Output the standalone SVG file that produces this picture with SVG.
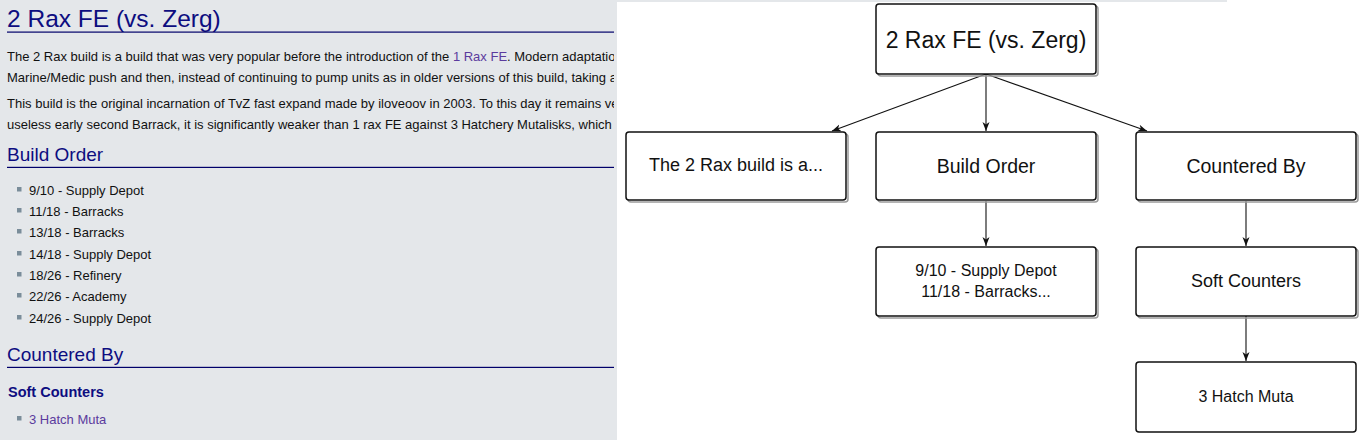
<svg xmlns="http://www.w3.org/2000/svg" width="1369" height="440" viewBox="0 0 1369 440">
<style>
.pt{font-family:"Liberation Sans",Arial,sans-serif;font-size:13px;fill:#111}
.li{font-family:"Liberation Sans",Arial,sans-serif;font-size:13px;fill:#111}
.lnk{fill:#5b3b9e}
.hd{font-family:"Liberation Sans",Arial,sans-serif;fill:#0d0d80}
.box{fill:#fff;stroke:#111;stroke-width:1.5}
.sh{fill:none;stroke:#9a9a9a;stroke-width:1.5}
.nt{font-family:"Liberation Sans",Arial,sans-serif;fill:#111;text-anchor:middle}
.con{fill:none;stroke:#111;stroke-width:1.1}
.bul{fill:#7a8d9a}
</style>
<defs>
<marker id="ah" markerWidth="10" markerHeight="8" refX="9" refY="4" orient="auto" markerUnits="userSpaceOnUse">
<path d="M0,0.5 L9,4 L0,7.5 L2.5,4 z" fill="#111"/>
</marker>
<clipPath id="pc"><rect x="0" y="0" width="614" height="440"/></clipPath>
</defs>
<rect x="0" y="0" width="1369" height="440" fill="#fff"/>
<g id="page">
<rect x="0" y="0" width="617" height="440" fill="#e4e7ea"/>
<rect x="617" y="0" width="610" height="2" fill="#e4e7ea"/>
<g clip-path="url(#pc)">
<text class="hd" x="7" y="27" font-size="24.5">2 Rax FE (vs. Zerg)</text>
<rect x="7" y="31.5" width="607" height="1.2" fill="#00006a"/>
<text class="pt" x="7" y="61">The 2 Rax build is a build that was very popular before the introduction of the <tspan class="lnk">1 Rax FE</tspan>. Modern adaptations of this build</text>
<text class="pt" x="7" y="82">Marine/Medic push and then, instead of continuing to pump units as in older versions of this build, taking an</text>
<text class="pt" x="7" y="108">This build is the original incarnation of TvZ fast expand made by iloveoov in 2003. To this day it remains very</text>
<text class="pt" x="7" y="129">useless early second Barrack, it is significantly weaker than 1 rax FE against 3 Hatchery Mutalisks, which</text>
</g>
<text class="hd" x="7" y="161" font-size="19">Build Order</text>
<rect x="7" y="166.8" width="607" height="1.2" fill="#00006a"/>
<rect class="bul" x="17" y="187" width="4.5" height="4.5"/>
<text class="li" x="29" y="195">9/10 - Supply Depot</text>
<rect class="bul" x="17" y="208" width="4.5" height="4.5"/>
<text class="li" x="29" y="216">11/18 - Barracks</text>
<rect class="bul" x="17" y="229" width="4.5" height="4.5"/>
<text class="li" x="29" y="237">13/18 - Barracks</text>
<rect class="bul" x="17" y="251" width="4.5" height="4.5"/>
<text class="li" x="29" y="259">14/18 - Supply Depot</text>
<rect class="bul" x="17" y="272" width="4.5" height="4.5"/>
<text class="li" x="29" y="280">18/26 - Refinery</text>
<rect class="bul" x="17" y="293" width="4.5" height="4.5"/>
<text class="li" x="29" y="301">22/26 - Academy</text>
<rect class="bul" x="17" y="315" width="4.5" height="4.5"/>
<text class="li" x="29" y="323">24/26 - Supply Depot</text>
<text class="hd" x="7" y="361" font-size="19">Countered By</text>
<rect x="7" y="366.8" width="607" height="1.2" fill="#00006a"/>
<text class="hd" x="8" y="397" font-size="14.5" font-weight="bold">Soft Counters</text>
<rect class="bul" x="17" y="416" width="4.5" height="4.5"/>
<text class="li lnk" x="29" y="424">3 Hatch Muta</text>
</g>
<g id="connectors">
<path class="con" d="M986,74 L832,131" marker-end="url(#ah)"/>
<path class="con" d="M986,74 L986,131" marker-end="url(#ah)"/>
<path class="con" d="M986,74 L1147,131" marker-end="url(#ah)"/>
<path class="con" d="M986,201 L986,246" marker-end="url(#ah)"/>
<path class="con" d="M1246,201 L1246,246" marker-end="url(#ah)"/>
<path class="con" d="M1246,316 L1246,361" marker-end="url(#ah)"/>
</g>
<g id="n-root">
<rect class="sh" x="878" y="6" width="220" height="70" rx="3"/>
<rect class="box" x="876" y="4" width="220" height="70" rx="3"/>
<text class="nt" x="986" y="48" font-size="23">2 Rax FE (vs. Zerg)</text>
</g>
<g id="n-intro">
<rect class="sh" x="628" y="134" width="220" height="68" rx="3"/>
<rect class="box" x="626" y="132" width="220" height="68" rx="3"/>
<text class="nt" x="736" y="171" font-size="18">The 2 Rax build is a...</text>
</g>
<g id="n-build">
<rect class="sh" x="878" y="134" width="220" height="68" rx="3"/>
<rect class="box" x="876" y="132" width="220" height="68" rx="3"/>
<text class="nt" x="986" y="173" font-size="19.5">Build Order</text>
</g>
<g id="n-countered">
<rect class="sh" x="1138" y="134" width="220" height="68" rx="3"/>
<rect class="box" x="1136" y="132" width="220" height="68" rx="3"/>
<text class="nt" x="1246" y="173" font-size="19.5">Countered By</text>
</g>
<g id="n-steps">
<rect class="sh" x="878" y="249" width="220" height="69" rx="3"/>
<rect class="box" x="876" y="247" width="220" height="69" rx="3"/>
<text class="nt" x="986" y="276" font-size="16">9/10 - Supply Depot</text>
<text class="nt" x="986" y="297" font-size="16">11/18 - Barracks...</text>
</g>
<g id="n-soft">
<rect class="sh" x="1138" y="249" width="220" height="69" rx="3"/>
<rect class="box" x="1136" y="247" width="220" height="69" rx="3"/>
<text class="nt" x="1246" y="287" font-size="18">Soft Counters</text>
</g>
<g id="n-muta">
<rect class="box" x="1136" y="362" width="220" height="70" rx="3"/>
<text class="nt" x="1246" y="402" font-size="16">3 Hatch Muta</text>
</g>
</svg>
